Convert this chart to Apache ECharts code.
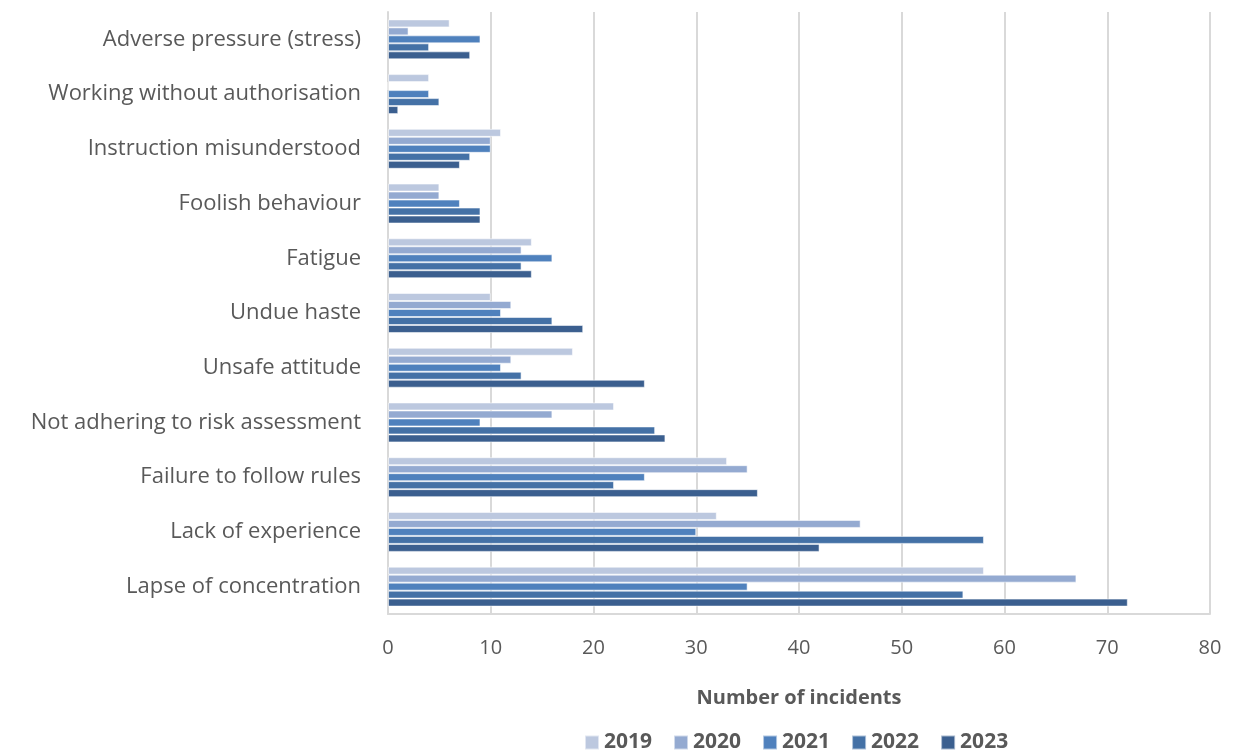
<!DOCTYPE html>
<html>
<head>
<meta charset="utf-8">
<script src="https://cdn.jsdelivr.net/npm/echarts@6/dist/echarts.min.js"></script>
<style>
  html, body { margin: 0; padding: 0; background: #ffffff; }
  #chart { width: 1255px; height: 756px; }
</style>
</head>
<body>
<div id="chart"></div>
<script>
// Contributing factors, listed top to bottom
const categories = [
  'Adverse pressure (stress)',
  'Working without authorisation',
  'Instruction misunderstood',
  'Foolish behaviour',
  'Fatigue',
  'Undue haste',
  'Unsafe attitude',
  'Not adhering to risk assessment',
  'Failure to follow rules',
  'Lack of experience',
  'Lapse of concentration'
];

const years = ['2019', '2020', '2021', '2022', '2023'];

const values2019 = [6, 4, 11, 5, 14, 10, 18, 22, 33, 32, 58];
const values2020 = [2, 0, 10, 5, 13, 12, 12, 16, 35, 46, 67];
const values2021 = [9, 4, 10, 7, 16, 11, 11, 9, 25, 30, 35];
const values2022 = [4, 5, 8, 9, 13, 16, 13, 26, 22, 58, 56];
const values2023 = [8, 1, 7, 9, 14, 19, 25, 27, 36, 42, 72];

const xTicks = [0, 10, 20, 30, 40, 50, 60, 70, 80];

const seriesValues = [values2019, values2020, values2021, values2022, values2023];
const palette = ['#bcc8df', '#94aad1', '#4f81bd', '#4471a6', '#3b5f8f'];

const chart = echarts.init(document.getElementById('chart'), null, { renderer: 'canvas' });

const font = '"Open Sans", "Noto Sans", sans-serif';

chart.setOption({
  animation: false,
  color: palette,
  textStyle: { fontFamily: font },
  grid: { left: 388, right: 45, top: 12, bottom: 142, containLabel: false },
  xAxis: {
    type: 'value',
    min: xTicks[0],
    max: xTicks[xTicks.length - 1],
    interval: 10,
    name: 'Number of incidents',
    nameLocation: 'middle',
    nameGap: 74,
    nameTextStyle: { color: '#595959', fontSize: 20, fontWeight: 'bold', fontFamily: font },
    axisLine: { show: true, lineStyle: { color: '#d9d9d9', width: 2 } },
    axisTick: { show: false },
    axisLabel: { color: '#595959', fontSize: 20, margin: 24, fontFamily: font },
    splitLine: { show: true, lineStyle: { color: '#d9d9d9', width: 2 } }
  },
  yAxis: {
    type: 'category',
    inverse: true,
    data: categories,
    axisLine: { show: true, lineStyle: { color: '#d9d9d9', width: 2 } },
    axisTick: { show: false },
    axisLabel: { color: '#595959', fontSize: 22, margin: 27, fontFamily: font }
  },
  legend: {
    bottom: -2,
    left: 579,
    itemWidth: 14,
    itemHeight: 14,
    itemGap: 21,
    icon: 'rect',
    textStyle: { color: '#595959', fontSize: 21, fontWeight: 'bold', fontFamily: font },
    data: years
  },
  series: years.map((y, i) => ({
    name: y,
    type: 'bar',
    data: seriesValues[i],
    barGap: '0%',
    barCategoryGap: '27%',
    itemStyle: { borderColor: 'rgba(255,255,255,0.55)', borderWidth: 1 }
  }))
});
</script>
</body>
</html>
